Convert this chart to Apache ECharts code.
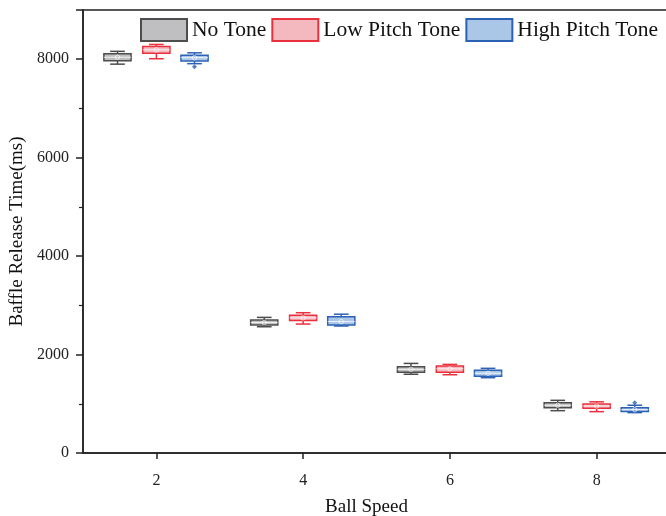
<!DOCTYPE html>
<html>
<head>
<meta charset="utf-8">
<script src="https://cdn.jsdelivr.net/npm/echarts@6/dist/echarts.min.js"></script>
<style>html,body{margin:0;padding:0;background:#fff;}#c{width:666px;height:516px;}</style>
</head>
<body>
<div id="c"></div>
<script>
// Data: [ballSpeed, min, q1, median, q3, max, mean]
const seriesNames = ['No Tone', 'Low Pitch Tone', 'High Pitch Tone'];
const noTone = [
  [2, 7900, 7970, 8040, 8110, 8160, 8040],
  [4, 2565, 2600, 2650, 2700, 2755, 2650],
  [6, 1600, 1640, 1700, 1750, 1820, 1700],
  [8, 860, 920, 970, 1020, 1070, 970]
];
const lowPitch = [
  [2, 8010, 8120, 8190, 8260, 8300, 8190],
  [4, 2620, 2690, 2745, 2800, 2850, 2745],
  [6, 1590, 1640, 1710, 1770, 1800, 1710],
  [8, 840, 910, 955, 995, 1040, 955]
];
const highPitch = [
  [2, 7910, 7965, 8030, 8080, 8130, 8030],
  [4, 2580, 2600, 2670, 2770, 2820, 2670],
  [6, 1530, 1560, 1620, 1680, 1720, 1620],
  [8, 820, 845, 880, 920, 970, 880]
];
const noToneOutliers = [];
const lowPitchOutliers = [];
const highPitchOutliers = [[2, 7845], [8, 1020]];
const xTicks = [2, 4, 6, 8];

const fills = ['rgba(170,170,172,0.75)', 'rgba(240,160,170,0.75)', 'rgba(150,185,225,0.8)'];
const strokes = ['#4d4d4d', '#e8313c', '#2c62b5'];
const offsets = [-0.53, 0, 0.52];
const boxHalf = 0.185;
const capHalf = 0.1;

function makeRender(idx) {
  return function (params, api) {
    const x = api.value(0) + offsets[idx];
    const mn = api.value(1), q1 = api.value(2), md = api.value(3), q3 = api.value(4), mx = api.value(5), mean = api.value(6);
    const pL = api.coord([x - boxHalf, q3]);
    const pR = api.coord([x + boxHalf, q1]);
    const cx = api.coord([x, 0])[0];
    const cL = api.coord([x - capHalf, 0])[0];
    const cR = api.coord([x + capHalf, 0])[0];
    const yMin = api.coord([x, mn])[1], yMax = api.coord([x, mx])[1];
    const yQ1 = pR[1], yQ3 = pL[1];
    const yMd = api.coord([x, md])[1], yMean = api.coord([x, mean])[1];
    const st = strokes[idx];
    const ls = {stroke: st, lineWidth: 1.5, fill: null};
    return {
      type: 'group',
      children: [
        {type: 'line', shape: {x1: cx, y1: yQ3, x2: cx, y2: yMax}, style: ls},
        {type: 'line', shape: {x1: cx, y1: yQ1, x2: cx, y2: yMin}, style: ls},
        {type: 'line', shape: {x1: cL, y1: yMax, x2: cR, y2: yMax}, style: ls},
        {type: 'line', shape: {x1: cL, y1: yMin, x2: cR, y2: yMin}, style: ls},
        {type: 'rect', shape: {x: pL[0], y: yQ3, width: pR[0] - pL[0], height: yQ1 - yQ3}, style: {fill: fills[idx], stroke: st, lineWidth: 1.5}},
        {type: 'line', shape: {x1: pL[0], y1: yMd, x2: pR[0], y2: yMd}, style: {stroke: 'rgba(255,255,255,0.8)', lineWidth: 1}},
        {type: 'circle', shape: {cx: cx, cy: yMean, r: 2.2}, style: {fill: null, stroke: 'rgba(255,255,255,0.8)', lineWidth: 0.8}}
      ]
    };
  };
}

const allData = [noTone, lowPitch, highPitch];
const allOut = [noToneOutliers, lowPitchOutliers, highPitchOutliers];
const series = [];
allData.forEach((d, i) => {
  series.push({
    name: seriesNames[i], type: 'custom', renderItem: makeRender(i), data: d,
    encode: {x: 0, y: [1, 2, 3, 4, 5]},
    itemStyle: {color: fills[i], borderColor: strokes[i], borderWidth: 1.8},
    silent: true, clip: false
  });
});
allOut.forEach((d, i) => {
  series.push({
    type: 'scatter', symbol: 'diamond', symbolSize: 5,
    data: d.map(p => [p[0] + offsets[i], p[1]]),
    itemStyle: {color: strokes[i]}, silent: true
  });
});

const font = 'Liberation Serif, Times New Roman, serif';
const chart = echarts.init(document.getElementById('c'));
chart.setOption({
  animation: false,
  backgroundColor: '#fff',
  textStyle: {fontFamily: font},
  legend: {
    data: seriesNames, left: 140, top: 18, padding: 0, icon: 'rect', itemWidth: 46, itemHeight: 22, itemGap: 5,
    textStyle: {fontFamily: font, fontSize: 21.5, color: '#111'}
  },
  grid: {left: 83, top: 10, width: 587, height: 443, containLabel: false, outerBoundsMode: 'none',
         show: true, borderColor: '#222', borderWidth: 1.5, backgroundColor: 'transparent'},
  xAxis: {
    type: 'value', min: 1, max: 9,
    name: 'Ball Speed', nameLocation: 'middle', nameGap: 45,
    nameTextStyle: {fontFamily: font, fontSize: 19, color: '#111', padding: [0, 20, 0, 0]},
    axisLine: {show: true, lineStyle: {color: '#222', width: 1.5}},
    axisTick: {show: true, customValues: xTicks, length: 6, lineStyle: {color: '#222', width: 1.5}},
    axisLabel: {customValues: xTicks, fontFamily: font, fontSize: 16, color: '#222', margin: 20},
    splitLine: {show: false}
  },
  yAxis: {
    type: 'value', min: 0, max: 9000, interval: 2000,
    name: 'Baffle Release Time(ms)', nameLocation: 'middle', nameGap: 55,
    nameTextStyle: {fontFamily: font, fontSize: 19, color: '#111'},
    axisLine: {show: true, lineStyle: {color: '#222', width: 1.5}},
    axisTick: {show: true, length: 7, lineStyle: {color: '#222', width: 1.5}},
    minorTick: {show: true, splitNumber: 2, length: 4, lineStyle: {color: '#222', width: 1.2}},
    axisLabel: {fontFamily: font, fontSize: 16, color: '#222', margin: 14, showMaxLabel: false,
                formatter: v => String(v)},
    splitLine: {show: false}
  },
  series: series
});
</script>
</body>
</html>
